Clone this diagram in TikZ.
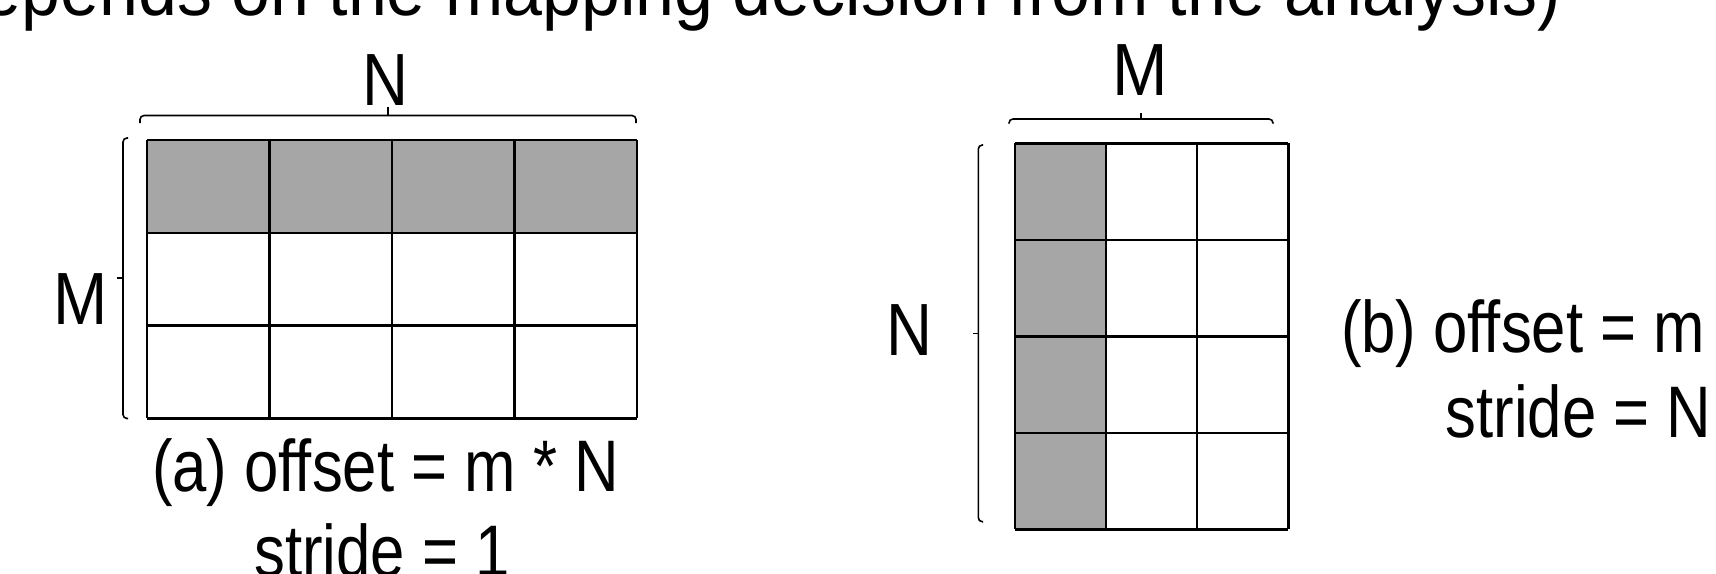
\documentclass[tikz,border=0pt]{standalone}
\usepackage{fontspec}
\setmainfont{Liberation Sans}
\usepackage{graphicx}
\definecolor{cellgray}{RGB}{166,166,166}
% narrowed text, as set in the slide
\newcommand\narrow[2]{\scalebox{#1}[1]{#2}}
\tikzset{
  gridline/.style={line width=2.4pt, draw=black},
  hilite/.style={fill=cellgray},
  bracket/.style={line width=1.6pt, draw=black, rounded corners=4pt},
  bracktick/.style={line width=1.6pt, draw=black},
  dimlabel/.style={inner sep=0pt, anchor=base, font=\fontsize{74}{74}\selectfont},
  caption/.style={inner sep=0pt, anchor=base, font=\fontsize{73}{73}\selectfont},
  headline/.style={inner sep=0pt, anchor=base east, font=\fontsize{76}{76}\selectfont},
}
\begin{document}
\begin{tikzpicture}[x=1pt, y=-1pt]
\useasboundingbox (0,0) rectangle (1716,573);
\clip (0,0) rectangle (1716,573);

% running text of the slide, cut by the frame
\node[headline] (head) at (1561,15) {\narrow{0.92}{depends on the mapping decision from the analysis)}};

% ---------- (a) row-major: M rows, N columns ----------
\def\ax{147} \def\ay{140} \def\aw{122.45} \def\ah{92.8}
\fill[hilite] (\ax,\ay) rectangle ({\ax+4*\aw},{\ay+\ah});
\foreach \i in {0,...,4}
  \draw[gridline] ({\ax+\i*\aw},\ay) -- ({\ax+\i*\aw},{\ay+3*\ah});
\foreach \j in {0,...,3}
  \draw[gridline] (\ax,{\ay+\j*\ah}) -- ({\ax+4*\aw},{\ay+\j*\ah});

% brace over the columns
\coordinate (aTopL) at (140,123);
\coordinate (aTopR) at (636,123);
\coordinate (aTopMid) at (388,115.5);
\coordinate (aTopTip) at (388,107);
\draw[bracket] (aTopL) -- (140,115.5) -- (636,115.5) -- (aTopR);
\draw[bracktick] (aTopMid) -- (aTopTip);
\node[dimlabel] (aN) at (385,105) {\narrow{0.86}{N}};

% brace beside the rows
\coordinate (aLeftT) at (128,138);
\coordinate (aLeftB) at (128,418.5);
\coordinate (aLeftMid) at (123,278);
\coordinate (aLeftTip) at (117,278);
\draw[bracket] (aLeftT) -- (123,138) -- (123,418.5) -- (aLeftB);
\draw[bracktick] (aLeftMid) -- (aLeftTip);
\node[dimlabel] (aM) at (81,324) {\narrow{0.88}{M}};

\node[caption] (aCap1) at (385.5,491) {\narrow{0.845}{(a) offset = m * N}};
\node[caption] (aCap2) at (382,576) {\narrow{0.845}{stride = 1}};

% ---------- (b) column-major: N rows, M columns ----------
\def\bx{1015} \def\by{143.3} \def\bw{91.1} \def\bh{96.5}
\fill[hilite] (\bx,\by) rectangle ({\bx+\bw},{\by+4*\bh});
\foreach \i in {0,...,3}
  \draw[gridline] ({\bx+\i*\bw},\by) -- ({\bx+\i*\bw},{\by+4*\bh});
\foreach \j in {0,...,4}
  \draw[gridline] (\bx,{\by+\j*\bh}) -- ({\bx+3*\bw},{\by+\j*\bh});

% brace over the columns
\coordinate (bTopL) at (1009,123.5);
\coordinate (bTopR) at (1273,123.5);
\coordinate (bTopMid) at (1141,119);
\coordinate (bTopTip) at (1141,113);
\draw[bracket] (bTopL) -- (1009,119) -- (1273,119) -- (bTopR);
\draw[bracktick] (bTopMid) -- (bTopTip);
\node[dimlabel] (bM) at (1140,95) {\narrow{0.9}{M}};

% brace beside the rows
\coordinate (bLeftT) at (983,145);
\coordinate (bLeftB) at (983,521.7);
\coordinate (bLeftMid) at (978.3,333.3);
\coordinate (bLeftTip) at (973,333.3);
\draw[bracket] (bLeftT) -- (978.3,145) -- (978.3,521.7) -- (bLeftB);
\draw[bracktick] (bLeftMid) -- (bLeftTip);
\node[dimlabel] (bN) at (909,355) {\narrow{0.86}{N}};

\node[caption] (bCap1) at (1523,352) {\narrow{0.845}{(b) offset = m}};
\node[caption] (bCap2) at (1578.5,437) {\narrow{0.845}{stride = N}};
\end{tikzpicture}
\end{document}
